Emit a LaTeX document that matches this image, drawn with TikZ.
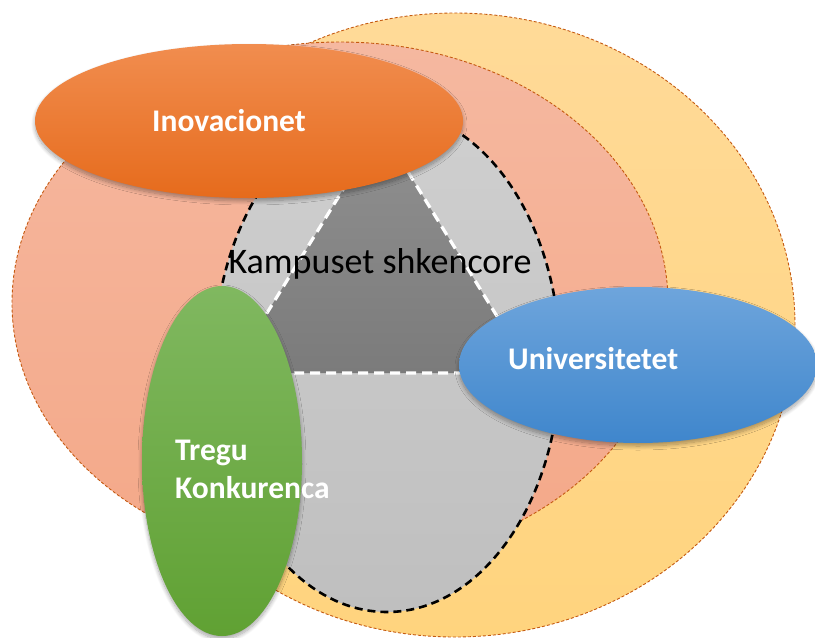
\documentclass[tikz,border=0pt]{standalone}
\usepackage{fontspec}
\setmainfont{Carlito}
\usetikzlibrary{shapes.geometric,shadows.blur}
\definecolor{yel1}{HTML}{FFDA98}
\definecolor{yel2}{HTML}{FFD47E}
\definecolor{sal1}{HTML}{F5B8A0}
\definecolor{sal2}{HTML}{F4A888}
\definecolor{gr1}{HTML}{CFCFCF}
\definecolor{gr2}{HTML}{BFBFBF}
\definecolor{dg1}{HTML}{909090}
\definecolor{dg2}{HTML}{7B7B7B}
\definecolor{or1}{HTML}{F18D4F}
\definecolor{or2}{HTML}{E66B1C}
\definecolor{bl1}{HTML}{6EA5DC}
\definecolor{bl2}{HTML}{3F86CC}
\definecolor{gn1}{HTML}{80B860}
\definecolor{gn2}{HTML}{60A133}
\definecolor{edgeor}{HTML}{C55A11}
\begin{document}
\begin{tikzpicture}[x=1pt,y=-1pt,
  ring/.style={ellipse, inner sep=0pt, outer sep=0pt, draw=edgeor, line width=0.9pt, dash pattern=on 3pt off 2pt},
  bubble/.style={ellipse, inner sep=0pt, outer sep=0pt, blur shadow={shadow blur steps=10, shadow xshift=0pt, shadow yshift=-3pt, shadow blur radius=4pt, shadow opacity=35}},
  boldlbl/.style={text=white, font=\fontsize{31.5}{38}\selectfont\bfseries, inner sep=0pt},
]
\useasboundingbox (0,0) rectangle (815,638);
\node[ring, minimum width=680pt, minimum height=624pt, top color=yel1, bottom color=yel2] (yellow) at (455,325) {};
\node[ring, minimum width=656pt, minimum height=522pt, top color=sal1, bottom color=sal2] (salmon) at (340,303) {};
\node[ellipse, inner sep=0pt, outer sep=0pt, minimum width=346pt, minimum height=502pt, top color=gr1, bottom color=gr2, draw=black, line width=2.6pt, dash pattern=on 8pt off 5pt] (core) at (387,361) {};
\coordinate (apex) at (381,128);
\coordinate (bl) at (230,373);
\coordinate (br) at (532,373);
\path[top color=dg1, bottom color=dg2] (apex) -- (bl) -- (br) -- cycle;
\draw[white, line width=3.2pt, dash pattern=on 10pt off 6pt] (apex) -- (bl) -- (br) -- cycle;
\node[font=\fontsize{36}{43}\selectfont, anchor=base, inner sep=0pt] (kampus) at (380,273) {Kampuset shkencore};
\node[bubble, minimum width=428pt, minimum height=154pt, top color=or1, bottom color=or2] (inov) at (249,121) {};
\node[boldlbl, anchor=base west] (inovt) at (152,131) {Inovacionet};
\node[bubble, minimum width=160pt, minimum height=350pt, top color=gn1, bottom color=gn2] (green) at (222,461) {};
\node[boldlbl, anchor=base west] (tregu) at (175,460) {Tregu};
\node[boldlbl, anchor=base west] (konk) at (175,498) {Konkurenca};
\node[bubble, minimum width=358pt, minimum height=156pt, top color=bl1, bottom color=bl2] (univ) at (638,365) {};
\node[boldlbl, anchor=base west] (univt) at (508,369) {Universitetet};
\end{tikzpicture}
\end{document}
